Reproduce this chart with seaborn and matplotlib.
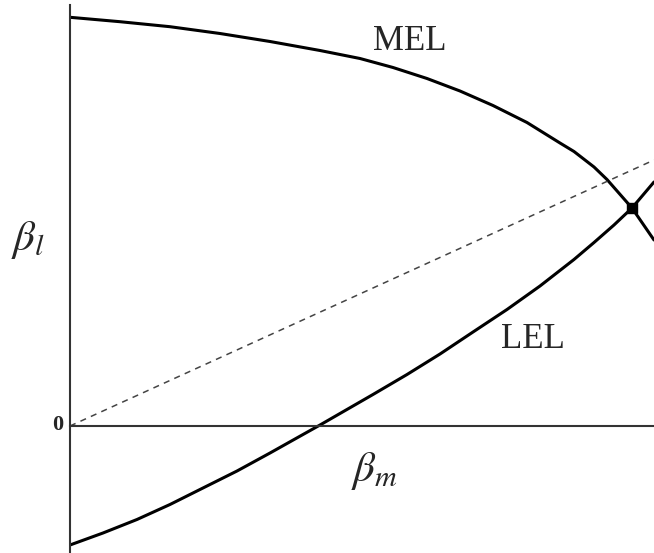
import numpy as np
import pandas as pd
import matplotlib
matplotlib.use("Agg")
import matplotlib.pyplot as plt
import seaborn as sns

# valores (eixo x normalizado 0..1, y em unidades arbitrarias)
mel_x = [0.0, 0.0856, 0.1712, 0.2568, 0.3425, 0.4281, 0.4966, 0.5531, 0.6113,
         0.6678, 0.7243, 0.7825, 0.8390, 0.8630, 0.8973, 0.9195, 0.9623, 1.0]
mel_y = [4.087, 4.043, 3.993, 3.925, 3.845, 3.755, 3.675, 3.585, 3.475,
         3.35, 3.205, 3.035, 2.83, 2.745, 2.59, 2.465, 2.18, 1.86]

lel_x = [0.0, 0.0565, 0.1147, 0.1712, 0.2277, 0.2860, 0.3425, 0.3990, 0.4281,
         0.4623, 0.5188, 0.5771, 0.6336, 0.6901, 0.7483, 0.8048, 0.8630, 0.8973,
         0.9315, 0.9623, 1.0]
lel_y = [-1.19, -1.07, -0.935, -0.785, -0.62, -0.45, -0.27, -0.085, 0.01,
         0.125, 0.315, 0.515, 0.72, 0.94, 1.165, 1.40, 1.665, 1.835,
         2.01, 2.18, 2.44]

diag_x = [0.0, 1.0]
diag_y = [0.0, 2.66]

eq_x = [0.9623]
eq_y = [2.18]

sns.set_style("white")
plt.rcParams['mathtext.fontset'] = 'stix'
plt.rcParams['font.family'] = ['Liberation Serif', 'DejaVu Serif']

fig = plt.figure(figsize=(6.54, 5.53), dpi=100)
ax = fig.add_axes([70 / 654, 0, 584 / 654, 548 / 553])

df_mel = pd.DataFrame({"x": mel_x, "y": mel_y})
df_lel = pd.DataFrame({"x": lel_x, "y": lel_y})
sns.lineplot(data=df_mel, x="x", y="y", ax=ax, color="black", lw=2.2, sort=False)
sns.lineplot(data=df_lel, x="x", y="y", ax=ax, color="black", lw=2.2, sort=False)
ax.plot(diag_x, diag_y, color="#444444", lw=1.1, ls=(0, (4, 3.5)))
ax.scatter(eq_x, eq_y, color="black", s=50, marker="s", zorder=5)

ax.set_xlim(0, 1)
ax.set_ylim(-1.27, 4.21)
ax.spines['left'].set_position(('data', 0))
ax.spines['bottom'].set_position(('data', 0))
ax.spines['right'].set_visible(False)
ax.spines['top'].set_visible(False)
for s in ['left', 'bottom']:
    ax.spines[s].set_color("#333333")
    ax.spines[s].set_linewidth(1.5)
ax.set_xticks([])
ax.set_yticks([])
ax.set_xlabel("")
ax.set_ylabel("")
ax.patch.set_alpha(0)

fig.text(58 / 654, 1 - 425 / 553, "0", ha="center", va="center", fontsize=16, fontweight="bold")
fig.text(28 / 654, 1 - 240 / 553, r"$\beta_l$", ha="center", va="center", fontsize=31)
fig.text(374 / 654, 1 - 471 / 553, r"$\beta_m$", ha="center", va="center", fontsize=31)
fig.text(410 / 654, 1 - 41 / 553, "MEL", ha="center", va="center", fontsize=25)
fig.text(533 / 654, 1 - 340 / 553, "LEL", ha="center", va="center", fontsize=25)

fig.savefig("out.png", dpi=100)
